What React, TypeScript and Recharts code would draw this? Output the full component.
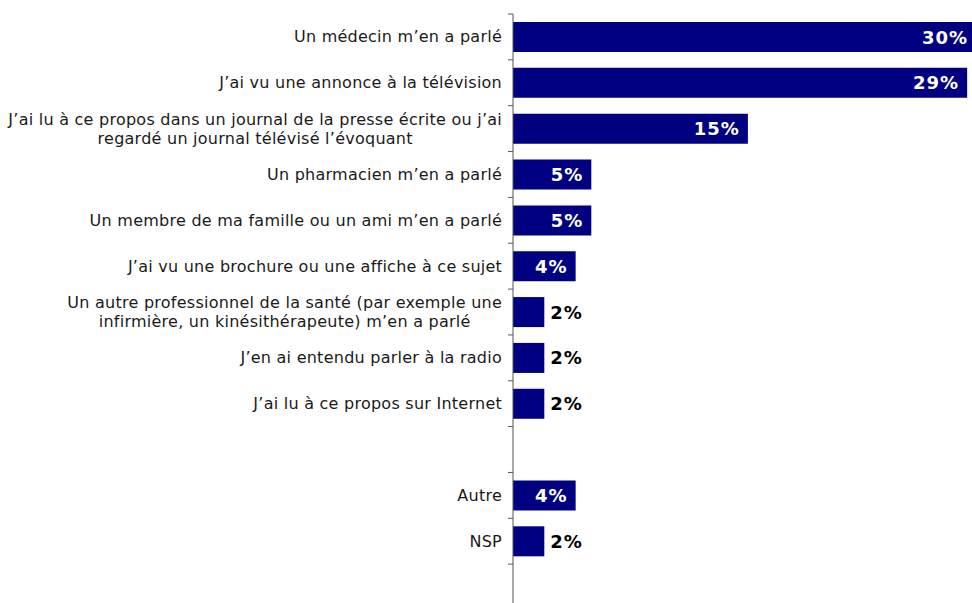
import React from 'react';
import { BarChart, Bar, XAxis, YAxis, LabelList } from 'recharts';

const categories = [
  'Un médecin m’en a parlé',
  'J’ai vu une annonce à la télévision',
  'J’ai lu à ce propos dans un journal de la presse écrite ou j’ai\nregardé un journal télévisé l’évoquant',
  'Un pharmacien m’en a parlé',
  'Un membre de ma famille ou un ami m’en a parlé',
  'J’ai vu une brochure ou une affiche à ce sujet',
  'Un autre professionnel de la santé (par exemple une\ninfirmière, un kinésithérapeute) m’en a parlé',
  'J’en ai entendu parler à la radio',
  'J’ai lu à ce propos sur Internet',
  '',
  'Autre',
  'NSP',
  ' ',
];

const values: (number | null)[] = [30, 29, 15, 5, 5, 4, 2, 2, 2, null, 4, 2, null];

const data = categories.map((label, i) => ({ label, value: values[i] }));

const NAVY = '#000080';
const VIEW_W = 972;
const CHART_W = 1011;
const CHART_H = 610;
const TOP = 14;
const AXIS_W = 513;
const BAND = (CHART_H - TOP) / data.length;
const LABEL_SIZE = 16;
const LABEL_SPACING = 0.25;
const LABEL_FONT = '"DejaVu Sans", Verdana, sans-serif';

let ctx: CanvasRenderingContext2D | null = null;
const measure = (s: string) => {
  if (!ctx) {
    ctx = document.createElement('canvas').getContext('2d');
    if (ctx) ctx.font = `${LABEL_SIZE}px "DejaVu Sans"`;
  }
  const w = ctx ? ctx.measureText(s).width : s.length * 8;
  return w + s.length * LABEL_SPACING;
};

const CategoryTick = (props: any) => {
  const { x, y, payload } = props;
  const axisX = x + 11;
  const lines: string[] = String(payload.value).trim() ? String(payload.value).split('\n') : [];
  const maxW = Math.max(0, ...lines.map(measure));
  const lh = 19;
  return (
    <g>
      <line x1={axisX - 5} x2={axisX} y1={y - BAND / 2} y2={y - BAND / 2} stroke="#555" strokeWidth={1} />
      {lines.map((ln, i) => (
        <text
          key={i}
          x={x - maxW / 2}
          y={y + (i - (lines.length - 1) / 2) * lh}
          textAnchor="middle"
          dominantBaseline="central"
          fill="#1a1a1a"
          fontSize={LABEL_SIZE}
          letterSpacing={LABEL_SPACING}
          fontFamily={LABEL_FONT}
        >
          {ln}
        </text>
      ))}
    </g>
  );
};

const ValueLabel = (props: any) => {
  const { x, y, width, height, value } = props;
  if (value == null) return null;
  const inside = value >= 4;
  // keep the label of a bar running past the visible edge inside the view
  const insideX = Math.min(x + width - 8, VIEW_W - 4);
  return (
    <text
      x={inside ? insideX : x + width + 6}
      y={y + height / 2}
      textAnchor={inside ? 'end' : 'start'}
      dominantBaseline="central"
      fill={inside ? '#ffffff' : '#000000'}
      fontSize={18}
      fontWeight="bold"
      letterSpacing={1}
      fontFamily='"DejaVu Sans", Verdana, sans-serif'
    >
      {value}%
    </text>
  );
};

export default function App() {
  return (
    <div style={{ position: 'absolute', left: 0, top: 0, width: VIEW_W, height: 603, overflow: 'hidden', background: '#fff' }}>
      <BarChart
        width={CHART_W}
        height={CHART_H}
        data={data}
        layout="vertical"
        margin={{ top: TOP, right: 0, bottom: 0, left: 0 }}
      >
        <XAxis type="number" domain={[0, 31.8]} hide />
        <YAxis
          type="category"
          dataKey="label"
          width={AXIS_W}
          tickSize={5}
          tickMargin={6}
          tickLine={false}
          axisLine={{ stroke: '#555' }}
          interval={0}
          tick={<CategoryTick />}
        />
        <Bar dataKey="value" fill={NAVY} barSize={30} isAnimationActive={false}>
          <LabelList dataKey="value" content={<ValueLabel />} />
        </Bar>
      </BarChart>
    </div>
  );
}
